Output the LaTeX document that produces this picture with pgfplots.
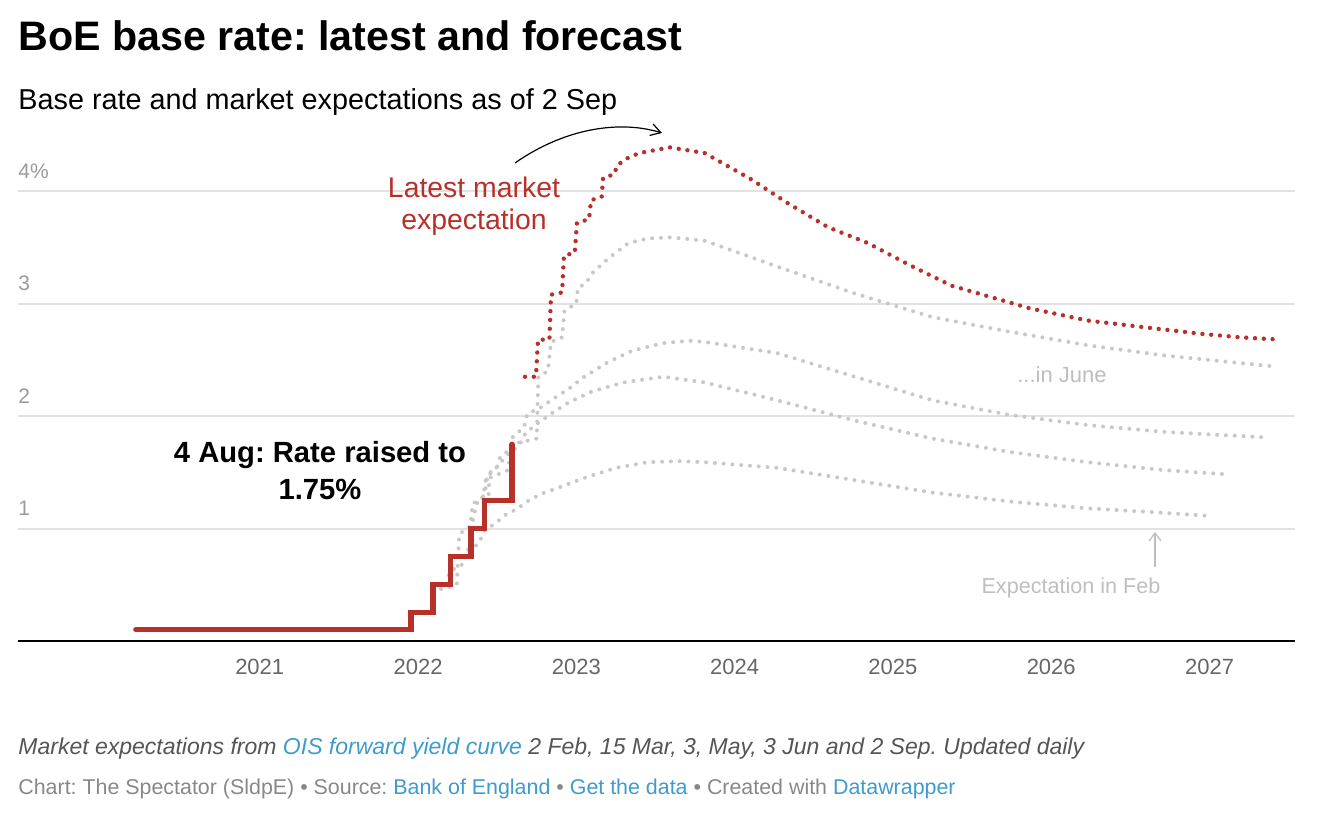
\documentclass[border=0pt]{standalone}
\usepackage{fontspec}
\setmainfont{Liberation Sans}
\usepackage{pgfplots}
\pgfplotsset{compat=1.18}
\usetikzlibrary{arrows.meta}
\definecolor{boered}{RGB}{183,48,42}
\definecolor{dotgray}{RGB}{200,200,200}
\definecolor{gridgray}{RGB}{226,226,226}
\definecolor{ticklab}{RGB}{155,155,155}
\definecolor{xlab}{RGB}{102,102,102}
\definecolor{notegray}{RGB}{85,85,85}
\definecolor{linkblue}{RGB}{62,155,204}
\definecolor{srcgray}{RGB}{136,136,136}
\definecolor{anngray}{RGB}{190,190,190}
\frenchspacing
\begin{document}
\begin{tikzpicture}
\path (0,0) rectangle (662pt,413pt);
\begin{axis}[
  at={(9pt,92.5pt)}, anchor=south west,
  scale only axis, width=638.5pt, height=253pt,
  xmin=2019.473, xmax=2027.540, ymin=0, ymax=4.5,
  axis x line=bottom, axis y line=left,
  x axis line style={-, black, line width=1pt},
  y axis line style={draw=none},
  major tick length=0pt,
  xtick={2021,2022,2023,2024,2025,2026,2027},
  xticklabels={2021,2022,2023,2024,2025,2026,2027},
  ytick={1,2,3,4},
  yticklabels={1,2,3,4\%},
  ymajorgrids, grid style={gridgray, line width=1pt},
  xticklabel style={text=xlab, font=\fontsize{11}{13}\selectfont, yshift=-5.5pt},
  yticklabel style={anchor=south west, text=ticklab, font=\fontsize{10.5}{12}\selectfont, inner xsep=0pt, xshift=0pt, yshift=3pt},
  clip=false,
]
% Feb
\addplot[dotgray, line width=2pt, line cap=round, dash pattern=on 0pt off 4.4pt] coordinates {
(2022.09,0.45) (2022.17,0.47) (2022.20,0.62) (2022.28,0.68) (2022.30,0.80) (2022.38,0.86) (2022.42,0.98) (2022.50,1.06) (2022.55,1.12) (2022.62,1.17) (2022.70,1.25) (2022.78,1.31) (2022.90,1.37) (2023.05,1.45) (2023.25,1.54) (2023.45,1.59) (2023.65,1.60) (2023.81,1.59) (2024.27,1.54) (2024.76,1.43) (2025.25,1.32) (2025.74,1.24) (2026.23,1.18) (2026.71,1.14) (2027.02,1.11)};
% Mar
\addplot[dotgray, line width=2pt, line cap=round, dash pattern=on 0pt off 4.4pt] coordinates {
(2022.20,0.48) (2022.245,0.50) (2022.26,0.95) (2022.33,1.02) (2022.345,1.22) (2022.41,1.28) (2022.43,1.45) (2022.50,1.55) (2022.56,1.65) (2022.64,1.74) (2022.68,1.85) (2022.75,1.93) (2022.85,2.03) (2022.95,2.12) (2023.1,2.22) (2023.3,2.30) (2023.55,2.35) (2023.81,2.30) (2024.27,2.14) (2024.76,1.96) (2025.25,1.80) (2025.74,1.68) (2026.23,1.59) (2026.71,1.52) (2027.13,1.48)};
% May
\addplot[dotgray, line width=2pt, line cap=round, dash pattern=on 0pt off 4.4pt] coordinates {
(2022.335,1.0) (2022.37,1.22) (2022.42,1.30) (2022.44,1.48) (2022.50,1.55) (2022.52,1.64) (2022.58,1.70) (2022.60,1.82) (2022.67,1.90) (2022.69,2.02) (2022.78,2.08) (2022.85,2.15) (2022.95,2.24) (2023.05,2.35) (2023.2,2.48) (2023.35,2.58) (2023.55,2.65) (2023.72,2.67) (2023.81,2.66) (2024.27,2.56) (2024.76,2.35) (2025.25,2.14) (2025.74,2.01) (2026.23,1.92) (2026.71,1.86) (2027.36,1.81)};
% June
\addplot[dotgray, line width=2pt, line cap=round, dash pattern=on 0pt off 4.4pt] coordinates {
(2022.42,1.25) (2022.445,1.27) (2022.45,1.45) (2022.57,1.52) (2022.59,1.75) (2022.75,1.80) (2022.76,2.35) (2022.82,2.40) (2022.84,2.66) (2022.91,2.70) (2022.925,2.94) (2023.0,3.0) (2023.01,3.14) (2023.06,3.18) (2023.10,3.27) (2023.2,3.40) (2023.33,3.54) (2023.45,3.58) (2023.60,3.59) (2023.81,3.56) (2024.27,3.33) (2024.76,3.09) (2025.25,2.88) (2025.74,2.75) (2026.23,2.63) (2026.71,2.54) (2027.42,2.44)};
% base rate
\addplot[boered, line width=2.6pt, const plot, line cap=round, line join=miter] coordinates {
(2020.217,0.1) (2021.956,0.25) (2022.095,0.5) (2022.205,0.75) (2022.335,1.0) (2022.42,1.25) (2022.594,1.75)};
% latest expectation
\addplot[boered, line width=2.2pt, line cap=round, dash pattern=on 0pt off 4.4pt] coordinates {
(2022.676,2.35) (2022.745,2.35) (2022.758,2.68) (2022.83,2.68) (2022.840,3.08) (2022.91,3.10) (2022.922,3.43) (2022.99,3.45) (2023.004,3.72) (2023.08,3.75) (2023.093,3.92) (2023.16,3.95) (2023.169,4.12) (2023.24,4.15) (2023.257,4.23) (2023.33,4.30) (2023.40,4.34) (2023.59,4.39) (2023.81,4.34) (2024.10,4.11) (2024.34,3.89) (2024.59,3.68) (2024.84,3.54) (2025.11,3.34) (2025.37,3.16) (2025.64,3.05) (2025.86,2.96) (2026.23,2.85) (2026.59,2.79) (2026.96,2.73) (2027.20,2.70) (2027.45,2.68)};
\end{axis}
\begin{scope}[x=0.5pt,y=-0.5pt,shift={(0pt,413pt)}]
\node[anchor=base west, inner sep=0pt, font=\fontsize{20.6}{25}\selectfont\bfseries] at (18,51) {BoE base rate: latest and forecast};
\node[anchor=base west, inner sep=0pt, font=\fontsize{14.4}{17}\selectfont] at (18,110) {Base rate and market expectations as of 2 Sep};
\node[align=center, text=boered, font=\fontsize{14.2}{16}\selectfont, inner sep=0pt] at (474,206) {Latest market\\expectation};
\draw[-{Straight Barb[length=5pt,width=6pt]}, line width=0.6pt] (515,163) .. controls (565,128) and (620,120) .. (662,133);
\node[align=center, font=\fontsize{14.6}{18.5}\selectfont\bfseries, inner sep=0pt] at (320,471) {4 Aug: Rate raised to\\1.75\%};
\node[text=anngray, font=\fontsize{11}{12}\selectfont, inner sep=0pt] at (1062,375) {...in June};
\node[text=anngray, font=\fontsize{10.8}{12}\selectfont, inner sep=0pt] at (1071,588) {Expectation in Feb};
\draw[anngray, -{Straight Barb[length=4pt,width=6pt]}, line width=0.6pt] (1155,567) -- (1155,532);
\node[anchor=base west, inner sep=0pt, text=notegray, font=\fontsize{11.5}{13}\selectfont\itshape] at (18,754) {Market expectations from \textcolor{linkblue}{OIS forward yield curve} 2 Feb, 15 Mar, 3, May, 3 Jun and 2 Sep. Updated daily};
\node[anchor=base west, inner sep=0pt, text=srcgray, font=\fontsize{10.7}{12}\selectfont] at (18,794) {Chart: The Spectator (SldpE) \textbullet{} Source: \textcolor{linkblue}{Bank of England} \textbullet{} \textcolor{linkblue}{Get the data} \textbullet{} Created with \textcolor{linkblue}{Datawrapper}};
\end{scope}
\end{tikzpicture}
\end{document}
